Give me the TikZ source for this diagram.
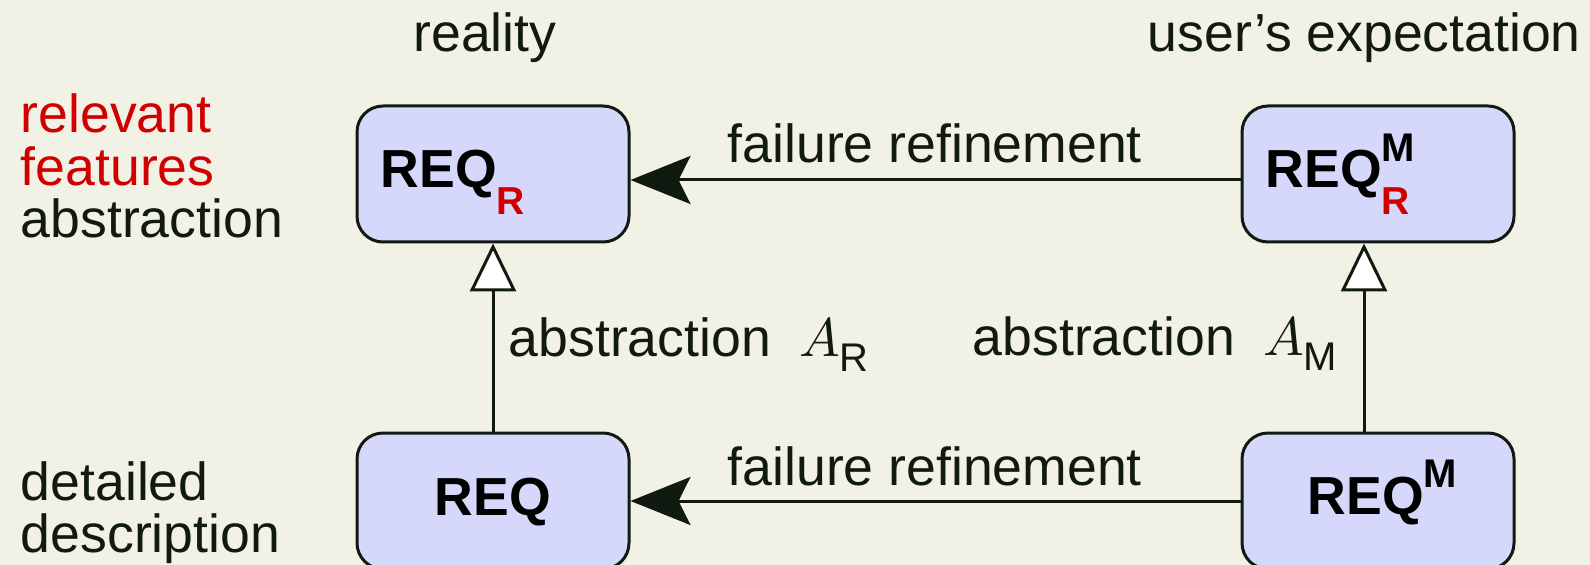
\documentclass[tikz,border=0pt]{standalone}
\usepackage{fontspec}
\usepackage{graphicx}
\setmainfont{Liberation Sans}
\usetikzlibrary{arrows.meta}
\definecolor{bg}{HTML}{F2F1E6}
\definecolor{boxfill}{HTML}{D5D7FB}
\definecolor{ink}{HTML}{101A10}
\definecolor{hred}{HTML}{D00000}
\newcommand\subR{\raisebox{-6.75pt}{\fontsize{9.75}{10}\selectfont\bfseries\color{hred}R}}
\newcommand\supM{\raisebox{6.6pt}{\fontsize{10}{10}\selectfont\bfseries M}}
\newcommand\mathA{{\fontsize{10}{12}\selectfont\scalebox{1.36}{$A$}}}
\begin{document}
\begin{tikzpicture}[x=0.25pt,y=-0.25pt,
  font=\fontsize{13.4}{16}\selectfont, color=ink,
  reqbox/.style={draw=ink, fill=boxfill, line width=0.75pt, rounded corners=6.5pt,
    minimum width=68pt, minimum height=34pt, inner sep=0pt},
  txt/.style={inner sep=0pt, anchor=base west, text=ink},
  boxtxt/.style={inner sep=0pt, anchor=base west, font=\fontsize{13.4}{16}\selectfont\bfseries, text=black},
  fail/.style={line width=0.75pt, draw=ink, -{Stealth[length=15pt, width=12pt, inset=3pt, fill=ink]}},
  abst/.style={line width=0.75pt, draw=ink, -{Triangle[length=12pt, width=11.5pt, fill=white]}}]
\useasboundingbox[fill=bg] (0,0) rectangle (1590,565);

% boxes
\node[reqbox] (reqR)  at (493,174) {};
\node[reqbox] (reqMR) at (1378,174) {};
\node[reqbox] (req)   at (493,501) {};
\node[reqbox] (reqM)  at (1378,501) {};

% box texts
\node[boxtxt] (treqR)  at (380,188) {REQ\subR};
\node[boxtxt] (treqMR) at (1265,188) {REQ\rlap{\supM}\subR};
\node[boxtxt, anchor=base] (treq) at (493,515) {REQ};
\node[boxtxt] (treqM)  at (1307,514) {REQ\supM};

% connectors
\draw[fail] ([yshift=-1.5pt]reqMR.west) -- ([yshift=-1.5pt]reqR.east);
\draw[fail] (reqM.west) -- (req.west -| req.east);
\draw[abst] (req.north) -- (reqR.south);
\draw[abst] ([xshift=-3.5pt]reqM.north) -- ([xshift=-3.5pt]reqMR.south);

% edge labels
\node[txt] (f1) at (727,163) {failure refinement};
\node[txt] (f2) at (727,485) {failure refinement};
\node[txt] (a1) at (508,356) {abstraction\hspace{7pt}\mathA\raisebox{-3.8pt}{\fontsize{10}{10}\selectfont R}};
\node[txt] (a2) at (972,355) {abstraction\hspace{7pt}\mathA\raisebox{-3.8pt}{\fontsize{10}{10}\selectfont M}};

% column headings
\node[txt, anchor=base] (reality) at (485,52) {reality};
\node[txt] (user) at (1147,52) {user’s expectation};

% row headings
\node[txt, text=hred] (rel1) at (20,133) {relevant};
\node[txt, text=hred] (rel2) at (20,186) {features};
\node[txt] (rel3) at (20,238) {abstraction};
\node[txt] (det1) at (20,500) {detailed};
\node[txt] (det2) at (20,552) {description};
\end{tikzpicture}
\end{document}
